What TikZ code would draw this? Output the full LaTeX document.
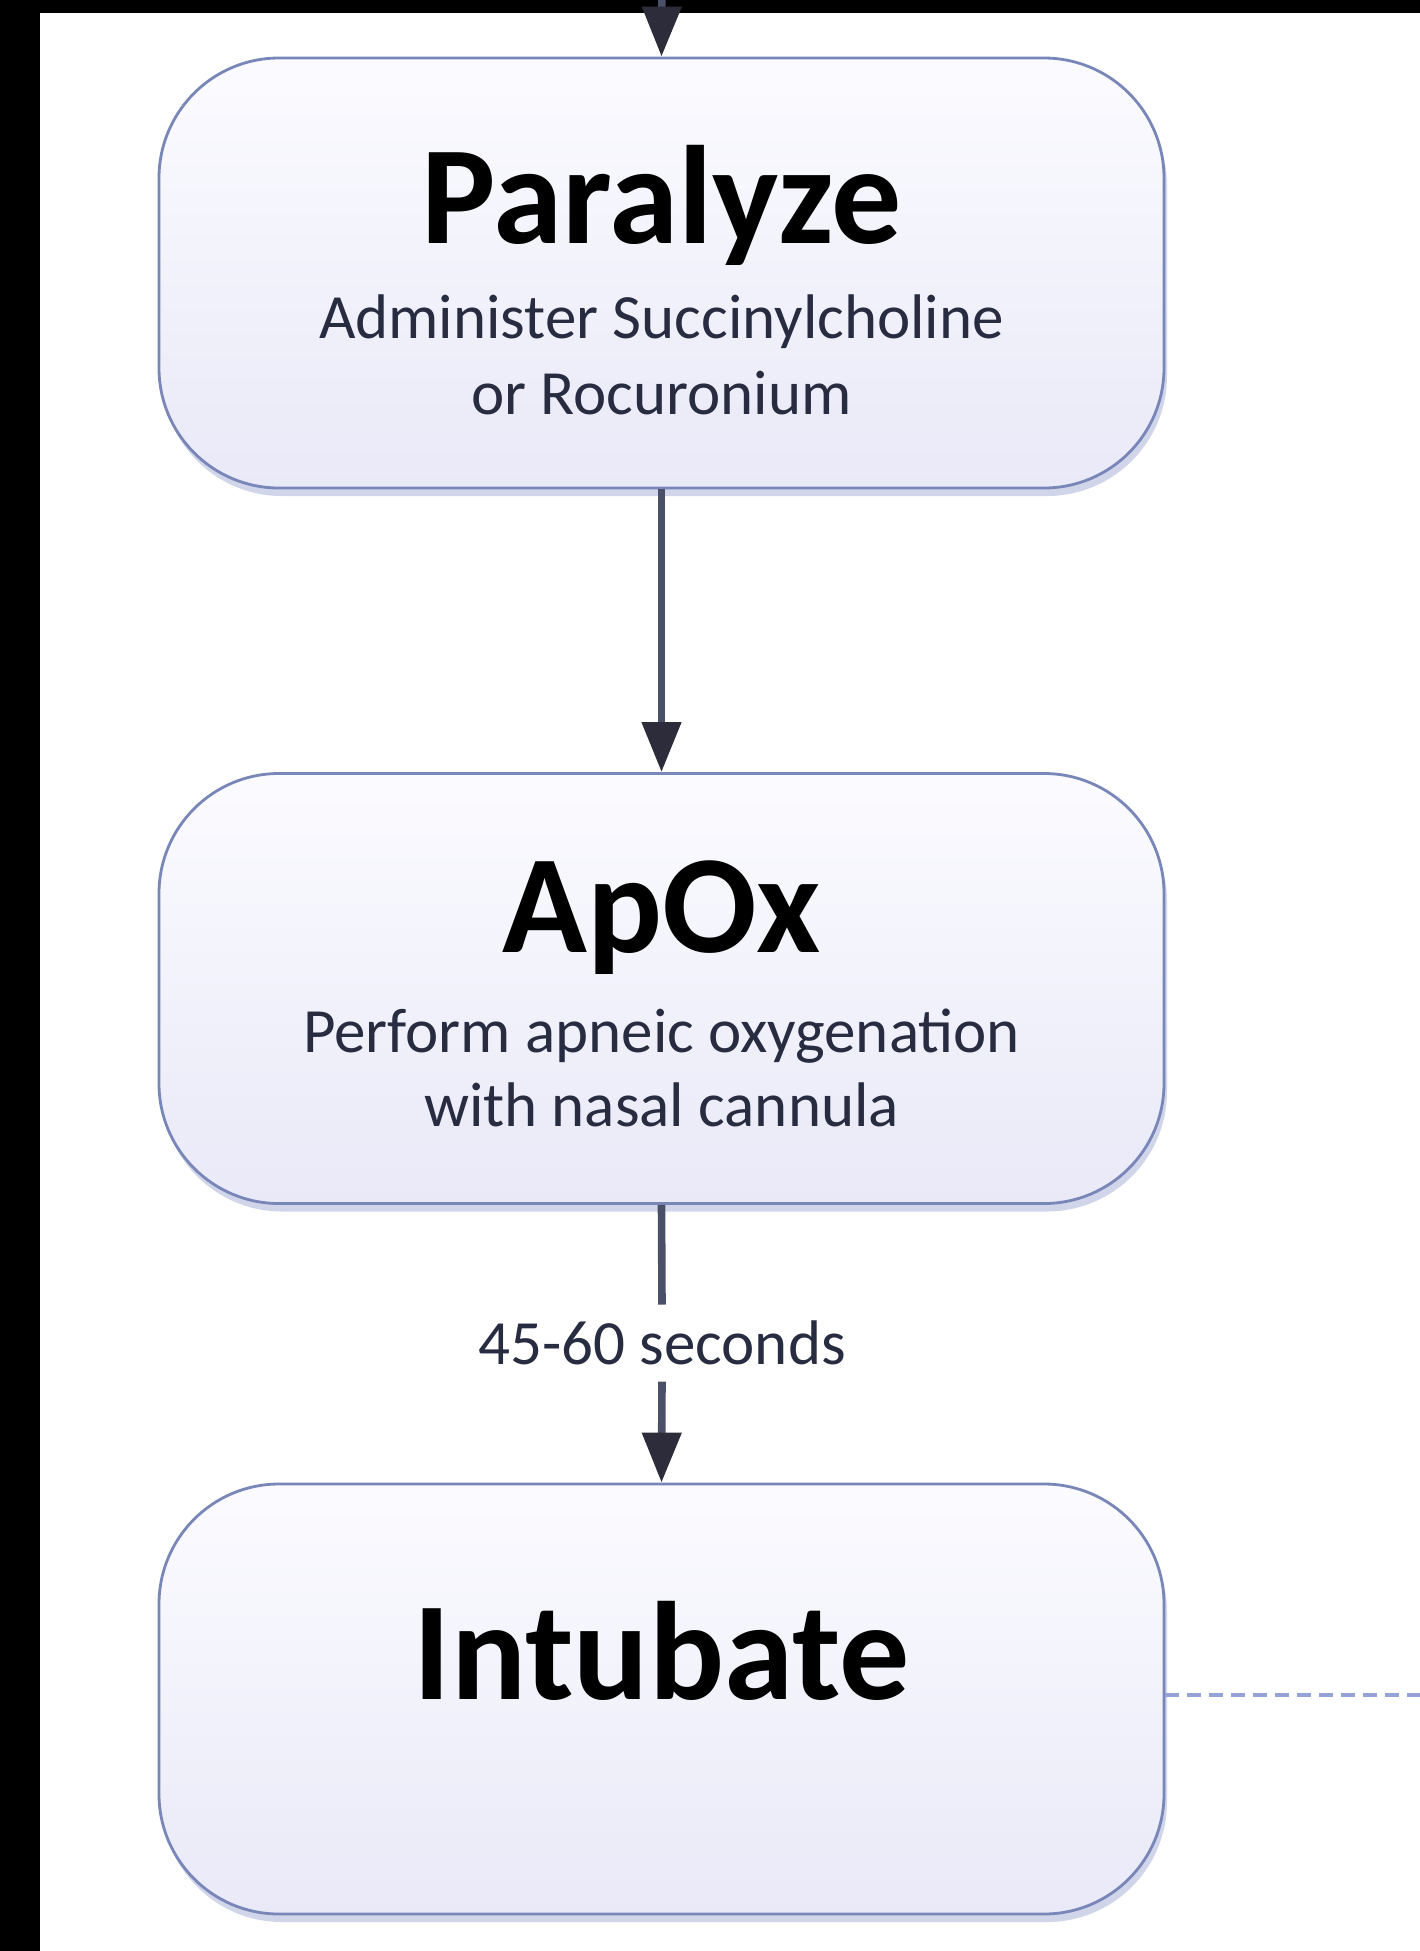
\documentclass[tikz,border=0pt]{standalone}
\usepackage{fontspec}
\setmainfont{Carlito}
\usetikzlibrary{arrows.meta,shadows}
\definecolor{boxline}{RGB}{120,134,184}
\definecolor{boxtop}{RGB}{251,251,255}
\definecolor{boxbot}{RGB}{233,233,248}
\definecolor{shade}{RGB}{170,180,218}
\definecolor{flowline}{RGB}{74,80,104}
\definecolor{flowhead}{RGB}{44,44,58}
\definecolor{subtext}{RGB}{40,44,64}
\definecolor{dashcol}{RGB}{150,162,214}
\begin{document}
\begin{tikzpicture}[x=0.5pt,y=-0.5pt,
  stepbox/.style={draw=boxline, line width=1.4pt, rounded corners=60pt,
    minimum width=502.5pt, minimum height=215pt, inner sep=0pt,
    top color=boxtop, bottom color=boxbot,
    drop shadow={shadow xshift=1.5pt, shadow yshift=-4pt, fill=shade, opacity=0.55}},
  titletext/.style={anchor=base, font=\fontsize{70}{80}\selectfont\bfseries, text=black, inner sep=0pt},
  subtitle/.style={anchor=base, font=\fontsize{31.5}{38.5}\selectfont, text=subtext, inner sep=0pt},
  flow/.style={draw=flowline, line width=3.8pt, -{Triangle[length=25pt,width=19pt,color=flowhead,fill=flowhead]}},
  plainflow/.style={draw=flowline, line width=3.8pt},
  dashline/.style={draw=dashcol, line width=1.6pt, dash pattern=on 7pt off 4pt}]
\useasboundingbox (0,0) rectangle (1420,1951);
\clip (0,0) rectangle (1420,1951);
\fill[white] (0,0) rectangle (1420,1951);
\fill[black] (0,0) rectangle (40,1951);
\fill[black] (0,0) rectangle (1420,13);

% boxes
\node[stepbox] (p) at (661.5,273) {};
\node[stepbox] (a) at (661.5,988.5) {};
\node[stepbox] (i) at (661.5,1699) {};

% texts
\node[titletext] (pt) at (661.5,243) {Paralyze};
\node[subtitle] (ps1) at (661.5,338) {Administer Succinylcholine};
\node[subtitle] (ps2) at (661.5,414) {or Rocuronium};

\node[titletext] (at) at (661.5,952) {ApOx};
\node[subtitle] (as1) at (661.5,1052) {Perform apneic oxygenation};
\node[subtitle] (as2) at (661.5,1126) {with nasal cannula};

\node[titletext] (it) at (661.5,1699) {Intubate};

% connectors
\coordinate (topin) at (662,-30);
\draw[flow] (topin) -- (p.north);
\draw[flow] (p.south) -- (a.north);

\node[subtitle, anchor=center, inner xsep=2pt, inner ysep=8pt] (lbl) at (662,1343) {45-60 seconds};
\draw[plainflow] (a.south) -- (lbl.north);
\draw[flow] (lbl.south) -- (i.north);

\coordinate (dashend) at (1420,1695);
\draw[dashline] (i.east |- dashend) -- (dashend);
\end{tikzpicture}
\end{document}
